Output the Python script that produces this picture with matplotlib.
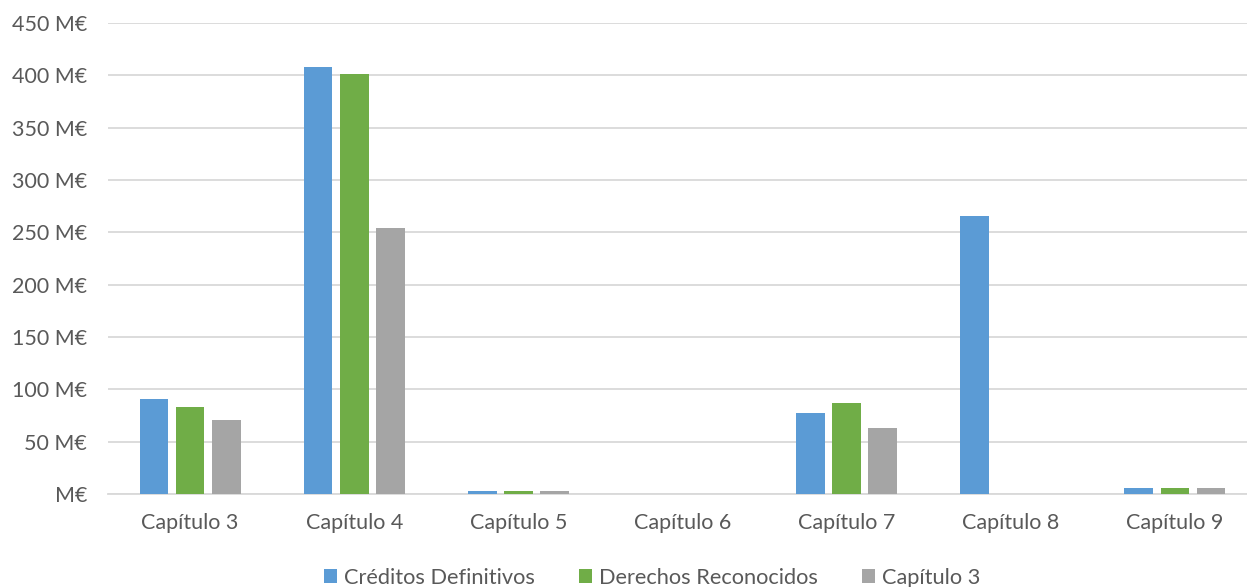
import numpy as np
import matplotlib.pyplot as plt
from matplotlib.ticker import FuncFormatter

categories = ['Capítulo 3', 'Capítulo 4', 'Capítulo 5', 'Capítulo 6',
              'Capítulo 7', 'Capítulo 8', 'Capítulo 9']
creditos = [91, 408, 2.5, 0, 77, 266, 5.5]
derechos = [83.5, 401, 2.5, 0, 86.5, 0, 5.5]
capitulo3 = [70.5, 254, 2.5, 0, 63.5, 0, 5.5]
series_names = ['Créditos Definitivos', 'Derechos Reconocidos', 'Capítulo 3']
colors = ['#5B9BD5', '#70AD47', '#A5A5A5']

plt.rcParams['font.family'] = ['Lato', 'DejaVu Sans']
text_color = '#595959'

fig = plt.figure(figsize=(12.47, 5.87), dpi=100)
ax = fig.add_axes([108 / 1247, 1 - 494 / 587, 1149 / 1247, 471 / 587])

x = np.arange(len(categories))
w = 0.175
step = 0.22
for i, (vals, name, c) in enumerate(zip([creditos, derechos, capitulo3], series_names, colors)):
    ax.bar(x + (i - 1) * step, vals, width=w, color=c, label=name, zorder=3)

ax.set_xlim(-0.5, len(categories) - 0.5)
ax.set_ylim(0, 450)
ax.set_yticks(np.arange(0, 451, 50))
ax.yaxis.set_major_formatter(FuncFormatter(lambda v, p: 'M€' if v == 0 else f'{int(v)} M€'))
ax.set_xticks(x)
ax.set_xticklabels(categories)
ax.grid(axis='y', color='#D9D9D9', linewidth=1.3, zorder=0)
for s in ['top', 'right', 'left']:
    ax.spines[s].set_visible(False)
ax.spines['bottom'].set_color('#D9D9D9')
ax.spines['bottom'].set_linewidth(1.3)
ax.tick_params(axis='both', length=0, labelsize=15.5, colors=text_color)
ax.tick_params(axis='y', pad=15)
ax.tick_params(axis='x', pad=14)

fig.legend(loc='center', bbox_to_anchor=(0.523, 1 - 578 / 587), ncol=3, frameon=False,
           fontsize=15.7, labelcolor=text_color, handlelength=0.6, handleheight=0.6,
           handletextpad=0.3, columnspacing=2.05, borderaxespad=0)

fig.savefig('out.png', dpi=100)
